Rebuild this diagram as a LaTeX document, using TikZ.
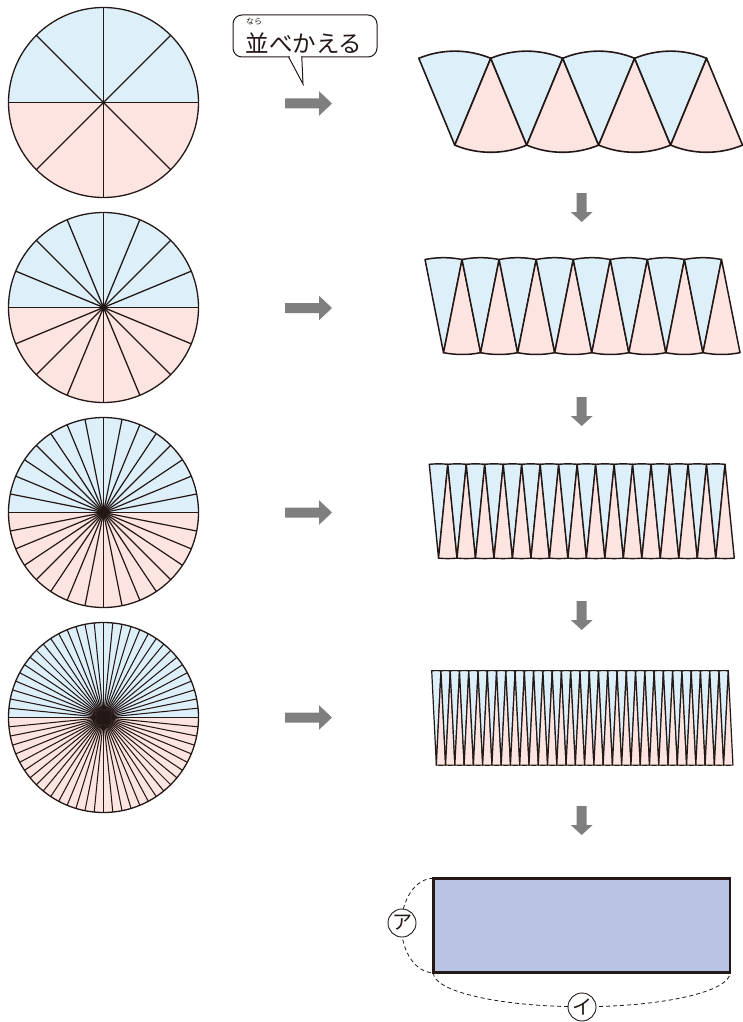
\documentclass[tikz,border=0pt]{standalone}
\usepackage{fontspec}
\newfontfamily\jpfont{Noto Sans CJK JP}
\definecolor{inkc}{HTML}{231815}
\definecolor{secblue}{HTML}{DDF0FA}
\definecolor{secpink}{HTML}{FCE4E1}
\definecolor{boxfill}{HTML}{B9C3E3}
\definecolor{arrowgray}{HTML}{7F7F7F}

% disk cut into 2*#3 equal sectors; centre (#1,#2), radius 95
\newcommand\slicedisk[4]{%
  \fill[secblue] (#1,#2) ++(180:95) arc[start angle=180, end angle=360, radius=95] -- cycle;
  \fill[secpink] (#1,#2) ++(0:95) arc[start angle=0, end angle=180, radius=95] -- cycle;
  \pgfmathsetmacro\diskang{180/#3}
  \pgfmathtruncatemacro\disklast{#3-1}
  \foreach \k in {0,...,\disklast}{
    \draw[inkc, line width=#4] (#1,#2) ++(\k*\diskang:95) -- ++(\k*\diskang+180:190);
  }
  \draw[inkc, line width=1.3] (#1,#2) circle[radius=95];
}

% the same sectors laid side by side: #1 per colour, left top corner (#2,#3), radius #4
\newcommand\fanstrip[5]{%
  \pgfmathsetmacro\fanang{180/#1}
  \pgfmathsetmacro\fanchord{2*#4*sin(\fanang/2)}
  \pgfmathsetmacro\fanh{#4*cos(\fanang/2)}
  \pgfmathtruncatemacro\fanlast{#1-1}
  \foreach \i in {0,...,\fanlast}{
    \pgfmathsetmacro\bx{#2+\fanchord/2+\i*\fanchord}
    \pgfmathsetmacro\px{#2+(\i+1)*\fanchord}
    \filldraw[fill=secblue, draw=inkc, line width=#5, line join=round]
      (\bx,#3+\fanh) -- ++(-90-\fanang/2:#4)
      arc[start angle=-90-\fanang/2, end angle=-90+\fanang/2, radius=#4] -- cycle;
    \filldraw[fill=secpink, draw=inkc, line width=#5, line join=round]
      (\px,#3) -- ++(90-\fanang/2:#4)
      arc[start angle=90-\fanang/2, end angle=90+\fanang/2, radius=#4] -- cycle;
  }
}

\newcommand\rightarrowat[1]{%
  \fill[arrowgray] (285,#1-5) -- (319,#1-5) -- (319,#1-12.3) -- (332,#1)
    -- (319,#1+12.3) -- (319,#1+5) -- (285,#1+5) -- cycle;
}
\newcommand\downarrowat[1]{%
  \fill[arrowgray] (576.7,#1) -- (586.7,#1) -- (586.7,#1+19) -- (592.6,#1+19)
    -- (581.7,#1+29) -- (570.8,#1+19) -- (576.7,#1+19) -- cycle;
}

\begin{document}
\begin{tikzpicture}[x=1pt, y=1pt, yscale=-1,
  lbl/.style={draw=inkc, circle, line width=0.9, minimum size=28, inner sep=0,
    fill=white, font=\jpfont\fontsize{20}{20}\selectfont, text=inkc},
  guide/.style={draw=inkc, line width=0.8, dash pattern=on 4pt off 3pt}]
\useasboundingbox (0,0) rectangle (743,1022);

% cut disks
\slicedisk{103.5}{102.5}{4}{1.3}
\slicedisk{103.5}{307.5}{8}{1.3}
\slicedisk{103.5}{512.5}{16}{1.2}
\slicedisk{103.5}{717.5}{32}{1.05}

% rearranged sectors
\fanstrip{4}{418.8}{58.3}{94}{1.6}
\fanstrip{8}{425}{259.5}{95}{1.5}
\fanstrip{16}{429.3}{464.3}{94.3}{1.4}
\fanstrip{32}{431.7}{670.7}{94.5}{1.2}

% arrows
\rightarrowat{103.5}
\rightarrowat{308}
\rightarrowat{512.5}
\rightarrowat{717.5}
\downarrowat{193}
\downarrowat{397}
\downarrowat{601}
\downarrowat{806}

% speech bubble
\node[draw=inkc, line width=1, rounded corners=9, fill=white, minimum width=144,
  minimum height=42, inner sep=0] (bubble) at (305,36) {};
\fill[white] (289.6,55.5) rectangle (301.2,58.5);
\draw[inkc, line width=1, line join=miter] (288.6,57) -- (303,84) -- (301.8,57);
\node[font=\jpfont\fontsize{23.5}{23.5}\selectfont, text=inkc, inner sep=0] (phrase) at (304,43) {並べかえる};
\node[font=\jpfont\fontsize{8}{8}\selectfont, text=inkc, inner sep=0] (ruby) at (254,22) {なら};

% limit rectangle
\node[draw=inkc, fill=boxfill, line width=2.5, minimum width=296.7, minimum height=94.4,
  inner sep=0, outer sep=0] (box) at (581.65,925.5) {};
\draw[guide] (box.north west) arc[start angle=-90, end angle=-270, x radius=32, y radius=47.2];
\draw[guide] (box.south west) arc[start angle=180, end angle=0, x radius=148.35, y radius=34];
\node[lbl] (side) at (402,923) {ア};
\node[lbl] (base) at (582,1007) {イ};
\end{tikzpicture}
\end{document}
